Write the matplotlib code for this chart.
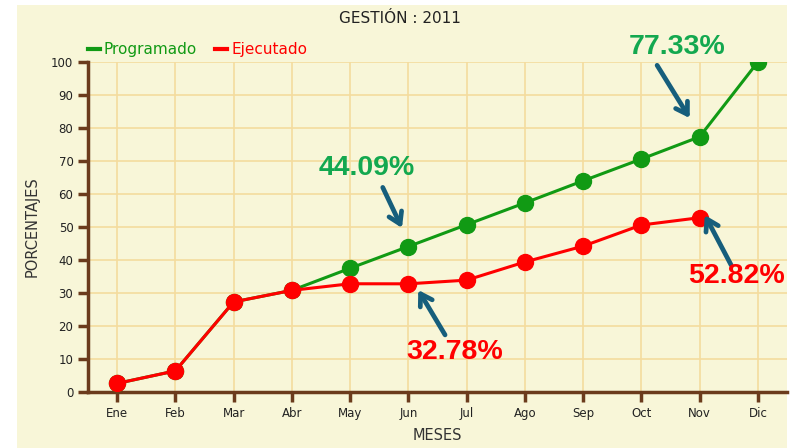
import matplotlib.pyplot as plt
from matplotlib.patches import Rectangle

# data
meses = ['Ene', 'Feb', 'Mar', 'Abr', 'May', 'Jun', 'Jul', 'Ago', 'Sep', 'Oct', 'Nov', 'Dic']
programado = [2.6, 6.4, 27.3, 30.8, 37.5, 44.09, 50.7, 57.3, 64.0, 70.6, 77.33, 100.0]
ejecutado = [2.6, 6.4, 27.3, 30.8, 32.8, 32.78, 33.9, 39.4, 44.2, 50.6, 52.82]

# (label, colour, arrow tip, arrow tail, text position) in data units
notas = [
    ('77.33%', '#13A84F', (9.83, 83.0), (9.27, 99.0), (9.61, 104.5)),
    ('44.09%', '#13A84F', (4.89, 49.7), (4.56, 62.0), (4.29, 67.9)),
    ('32.78%', '#FF0000', (5.17, 30.9), (5.63, 17.3), (5.80, 12.1)),
    ('52.82%', '#FF0000', (10.09, 53.6), (10.54, 38.5), (10.63, 35.2)),
]

fig = plt.figure(figsize=(7.99, 4.48), dpi=100)
fig.patch.set_facecolor('white')
fig.add_artist(Rectangle((17 / 799, 0), 770 / 799, 443 / 448,
                         transform=fig.transFigure, facecolor='#F8F6D8',
                         edgecolor='none', zorder=-5))

ax = fig.add_axes([88 / 799, 56 / 448, 699 / 799, 330 / 448])
ax.set_facecolor('#F8F6D8')

x = list(range(len(meses)))
ax.plot(x, programado, color='#119A14', lw=2.2, marker='o', ms=11.5,
        markeredgecolor='#119A14', zorder=3, label='Programado')
ax.plot(x[:len(ejecutado)], ejecutado, color='#FF0000', lw=2.2, marker='o', ms=11.5,
        markeredgecolor='#FF0000', zorder=4, label='Ejecutado')

ax.set_xlim(-0.5, 11.5)
ax.set_ylim(0, 100)
ax.set_yticks(range(0, 101, 10))
ax.set_xticks(x)
ax.set_xticklabels(meses)
ax.grid(True, color='#F4DC9E', lw=1.2, zorder=0)
ax.set_axisbelow(True)

brown = '#6B3B1C'
for s in ['top', 'right']:
    ax.spines[s].set_visible(False)
for s in ['left', 'bottom']:
    ax.spines[s].set_color(brown)
    ax.spines[s].set_linewidth(2.5)
ax.tick_params(axis='both', colors=brown, width=2.5, length=7, labelsize=8.5,
               labelcolor='#222222')

ax.set_xlabel('MESES', fontsize=10.5, color='#333333', labelpad=6)
ax.set_ylabel('PORCENTAJES', fontsize=10.5, color='#333333', labelpad=8)
fig.text(0.5, 0.958, 'GESTIÓN : 2011', ha='center', va='center',
         fontsize=11, color='#222222')

leg = ax.legend(loc='lower left', bbox_to_anchor=(-0.005, 1.005), ncol=2, frameon=False,
                fontsize=11, handlelength=0.8, handletextpad=0.25, columnspacing=1.2,
                borderaxespad=0.1, borderpad=0.1)
for h in leg.legend_handles:
    h.set_marker('')
    h.set_linewidth(3)
for t, c in zip(leg.get_texts(), ['#119A14', '#FF0000']):
    t.set_color(c)

for texto, col, tip, tail, pos in notas:
    ax.annotate('', xy=tip, xytext=tail, annotation_clip=False,
                arrowprops=dict(arrowstyle='->,head_length=0.8,head_width=0.5',
                                color='#165E7C', lw=3.4, shrinkA=0, shrinkB=0),
                zorder=6)
    ax.text(pos[0], pos[1], texto, color=col, fontsize=20.5, fontweight='bold',
            family='Liberation Sans', ha='center', va='center', clip_on=False, zorder=6)

fig.savefig('out.png', dpi=100)
